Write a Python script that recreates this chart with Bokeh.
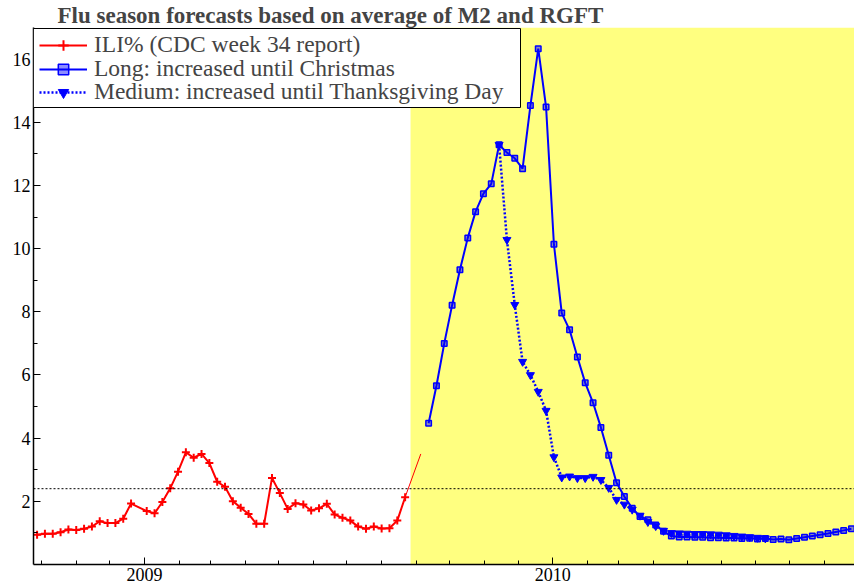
from datetime import datetime, timedelta
from bokeh.plotting import figure
from bokeh.models import (FixedTicker, DatetimeTickFormatter, BoxAnnotation, Span,
                          Legend, LegendItem, Range1d)
from bokeh.embed import file_html
from bokeh.resources import INLINE

# ---------------- data ----------------
ili_start_a = datetime(2008, 9, 27)
ili_values_a = [0.94, 0.97, 0.97, 1.02, 1.11, 1.09, 1.13, 1.20, 1.37, 1.31, 1.31, 1.45, 1.93]
ili_start_b = datetime(2009, 1, 3)
ili_values_b = [1.69, 1.62, 1.98, 2.41, 2.94, 3.55, 3.38, 3.50, 3.21, 2.62,
                2.46, 2.00, 1.80, 1.60, 1.29, 1.29, 2.74, 2.26, 1.76, 1.94,
                1.90, 1.71, 1.78, 1.92, 1.58, 1.48, 1.39, 1.20, 1.13, 1.20,
                1.14, 1.15, 1.39, 2.13]
ili_tail_dates = [datetime(2009, 8, 22), datetime(2009, 9, 5)]
ili_tail_values = [2.13, 3.50]

long_start = datetime(2009, 9, 12)
long_values = [4.47, 5.66, 7.00, 8.21, 9.33, 10.34, 11.17, 11.74, 12.05, 13.29,
               13.04, 12.86, 12.53, 14.53, 16.33, 14.48, 10.14, 7.96, 7.43, 6.57,
               5.75, 5.12, 4.34, 3.46, 2.59, 2.15, 1.78, 1.52, 1.42, 1.25,
               1.05, 0.90, 0.87, 0.87, 0.86, 0.86, 0.85, 0.85, 0.84, 0.84,
               0.82, 0.83, 0.81, 0.82, 0.79, 0.81, 0.78, 0.82, 0.86, 0.90,
               0.94, 0.98, 1.03, 1.08, 1.13]

medium_start = datetime(2009, 11, 14)
medium_values = [13.29, 10.28, 8.22, 6.42, 6.00, 5.47, 4.87, 3.40, 2.76, 2.79,
                 2.74, 2.74, 2.78, 2.68, 2.43, 2.05, 1.90, 1.74, 1.55, 1.35,
                 1.22, 1.07, 1.00, 0.99, 0.98, 0.97, 0.97, 0.96, 0.95, 0.93,
                 0.91, 0.89, 0.87, 0.85, 0.83]

baseline = 2.4
forecast_start = datetime(2009, 8, 26, 20)

year_ticks = [datetime(2009, 1, 1), datetime(2010, 1, 1)]
month_ticks = [datetime(2008 + (9 + i) // 12, (9 + i) % 12 + 1, 1) for i in range(24)]
y_major = [2, 4, 6, 8, 10, 12, 14, 16]
y_minor = [1, 3, 5, 7, 9, 11, 13, 15]

x_start = datetime(2008, 9, 23, 19)
x_end = datetime(2010, 9, 27, 17)

title_text = "Flu season forecasts based on average of M2 and RGFT"
labels = ["ILI% (CDC week 34 report)",
          "Long: increased until Christmas",
          "Medium: increased until Thanksgiving Day"]


def weekly(start, n):
    return [start + timedelta(days=7 * i) for i in range(n)]


def ms(d):
    return (d - datetime(1970, 1, 1)).total_seconds() * 1000.0


ili_dates = weekly(ili_start_a, len(ili_values_a)) + weekly(ili_start_b, len(ili_values_b))
ili_values = ili_values_a + ili_values_b
long_dates = weekly(long_start, len(long_values))
medium_dates = weekly(medium_start, len(medium_values))

SERIF = "Liberation Serif"
FRAME_H = 536  # 586 - 28 (top) - 22 (bottom)

p = figure(width=854, height=586, x_axis_type="datetime", output_backend="svg",
           toolbar_location=None, x_range=Range1d(x_start, x_end), y_range=Range1d(0, 17),
           min_border_left=33, min_border_right=0, min_border_top=0, min_border_bottom=22)

p.title.text = title_text
p.title.text_font = SERIF
p.title.text_font_size = "23px"
p.title.text_font_style = "bold"
p.title.align = "left"
p.title.offset = 24
p.title.standoff = 0

p.xgrid.visible = False
p.ygrid.visible = False
p.outline_line_color = None
p.background_fill_color = "white"
p.border_fill_color = "white"

p.add_layout(BoxAnnotation(left=ms(forecast_start), fill_color="#FFFF80", fill_alpha=1.0,
                           line_alpha=0, level="underlay"))
p.add_layout(Span(location=baseline, dimension="width", line_color="black",
                  line_dash="2 2", line_width=1))

r_ili_tail = p.line(ili_tail_dates, ili_tail_values, line_color="red", line_width=1)
r_ili_l = p.line(ili_dates, ili_values, line_color="red", line_width=2)
r_ili_s = p.scatter(ili_dates, ili_values, marker="cross", size=8, line_color="red", line_width=2)

r_med_l = p.line(medium_dates, medium_values, line_color="blue", line_width=2.5, line_dash="2 2")
r_med_s = p.scatter(medium_dates, medium_values, marker="inverted_triangle", size=8,
                    line_color="blue", fill_color="blue")

r_long_l = p.line(long_dates, long_values, line_color="blue", line_width=2)
r_long_s = p.scatter(long_dates, long_values, marker="square", size=5.5, line_color="blue",
                     line_width=1.5, fill_color="blue", fill_alpha=0.45)

# legend frame (screen units, relative to the plot frame)
p.add_layout(BoxAnnotation(left=0, right=487, top=FRAME_H, bottom=FRAME_H - 79,
                           left_units="screen", right_units="screen",
                           top_units="screen", bottom_units="screen",
                           fill_color="white", fill_alpha=1.0,
                           line_color="black", line_width=1, line_alpha=1.0))

item_rs = [[r_ili_l, r_ili_s], [r_long_l, r_long_s], [r_med_l, r_med_s]]
row_centers = [FRAME_H - 17, FRAME_H - 41, FRAME_H - 64]
for lab, rs, cy in zip(labels, item_rs, row_centers):
    lg = Legend(items=[LegendItem(label=lab, renderers=rs)],
                location=(6, cy - 13), margin=0, padding=0, spacing=0,
                label_text_font=SERIF, label_text_font_size="23.5px",
                label_height=26, glyph_height=26, glyph_width=48, label_standoff=7,
                border_line_alpha=0, background_fill_alpha=0)
    p.add_layout(lg)

# axes
p.yaxis.ticker = FixedTicker(ticks=y_major, minor_ticks=y_minor)
p.xaxis.ticker = FixedTicker(ticks=[ms(d) for d in year_ticks],
                             minor_ticks=[ms(d) for d in month_ticks])
p.xaxis.formatter = DatetimeTickFormatter(years="%Y", months="%Y", days="%Y", hours="%Y",
                                          minutes="%Y", seconds="%Y", milliseconds="%Y",
                                          microseconds="%Y", hourmin="%Y", minsec="%Y")
for ax in (p.xaxis[0], p.yaxis[0]):
    ax.axis_line_color = "black"
    ax.axis_line_width = 1.5
    ax.major_tick_in = 7
    ax.major_tick_out = 0
    ax.minor_tick_in = 4
    ax.minor_tick_out = 0
    ax.major_tick_line_color = "black"
    ax.minor_tick_line_color = "black"
    ax.major_label_text_font = SERIF
    ax.major_label_text_font_size = "18px"
    ax.major_label_text_color = "black"
    ax.major_label_standoff = 3

open("out.html", "w").write(file_html(p, INLINE))
